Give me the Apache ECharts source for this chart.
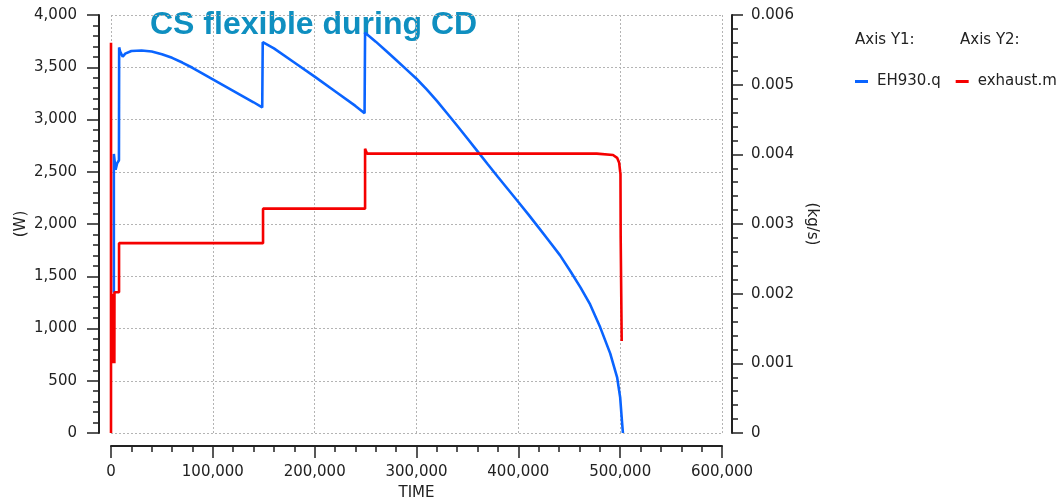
<!DOCTYPE html>
<html>
<head>
<meta charset="utf-8">
<script src="https://cdn.jsdelivr.net/npm/echarts@6/dist/echarts.min.js"></script>
<style>
  html, body { margin: 0; padding: 0; background: #ffffff; }
  #chart { width: 1064px; height: 503px; }
</style>
</head>
<body>
<div id="chart"></div>
<script>
// Heat rate of EH930 (W) over time (s)
const blueTime = [2800, 2800, 4500, 6000, 7800, 8000, 9000, 11500, 14000, 20000, 30000, 40000, 50000, 60000, 70000, 80000, 90000, 100000, 110000, 120000, 130000, 140000, 148500,
  149000, 160000, 180000, 200000, 220000, 240000, 249000,
  249500, 260000, 270000, 280000, 290000, 300000, 310000, 320000, 330000, 340000, 350000, 360000, 370000, 380000, 390000, 400000, 410000, 420000, 430000,
  441000, 451000, 461000, 470500, 480400, 490200, 497000, 500000, 501700, 502700];
const blueHeat = [1345, 2670, 2520, 2580, 2610, 3690, 3650, 3600, 3630, 3655, 3660, 3650, 3625, 3590, 3545, 3495, 3440, 3385, 3330, 3275, 3220, 3165, 3115,
  3740, 3680, 3545, 3410, 3270, 3130, 3060,
  3830, 3745, 3658, 3570, 3480, 3390, 3288, 3178, 3060, 2940, 2818, 2695, 2572, 2450, 2330, 2210, 2090, 1965, 1840,
  1700, 1550, 1394, 1230, 1011, 762, 533, 341, 122, 0];

// Exhaust mass flow (kg/s) over time (s)
const redTime = [0, 0, 100, 200, 300, 400, 500, 600, 700, 800, 900, 1000, 1100, 1200, 1300, 1400, 1500, 1600, 1700, 1800, 1900, 2000,
  2100, 2200, 2300, 2400, 2500, 2600, 2700, 2800, 2900, 3000, 3100, 3200, 3300, 3400, 7900, 7900, 149300, 149300, 249500, 249500, 251500,
  477000, 477500, 493000, 497000, 499000, 500000, 500300, 500500, 501500, 501500];
const redFlow = [0, 0.0056, 0.0010, 0.0020, 0.0010, 0.0020, 0.0010, 0.0020, 0.0010, 0.0020, 0.0010, 0.0020, 0.0010, 0.0020, 0.0010, 0.0020, 0.0010, 0.0020, 0.0010, 0.0020, 0.0010, 0.0020,
  0.0010, 0.0020, 0.0010, 0.0020, 0.0010, 0.0020, 0.0010, 0.0020, 0.0010, 0.0020, 0.0010, 0.0020, 0.0010, 0.00202, 0.00202, 0.002725, 0.002725, 0.00322, 0.00322, 0.00408, 0.00401,
  0.00401, 0.00399, 0.00399, 0.00395, 0.00388, 0.00375, 0.00372, 0.00282, 0.00280, 0.00132];

const seriesNames = ['EH930.q', 'exhaust.m'];
const axisHeaders = ['Axis Y1:', 'Axis Y2:'];
const titleText = 'CS flexible during CD';

const zip = (xs, ys) => xs.map((x, i) => [x, ys[i]]);
const fmtThousands = v => Math.round(v).toLocaleString('en-US');

const FONT = 'DejaVu Sans';
const INK = '#222222';
const GRID_LINE = { show: true, lineStyle: { color: '#b4b4b4', width: 1, type: [2, 2] } };

const chart = echarts.init(document.getElementById('chart'), null, { renderer: 'canvas' });

chart.setOption({
  animation: false,
  backgroundColor: '#ffffff',
  textStyle: { fontFamily: FONT },
  grid: { left: 111, right: 342, top: 15, bottom: 70, containLabel: false, outerBoundsMode: 'none' },
  graphic: [
    { type: 'text', left: 150, top: 9, style: { text: titleText, fill: '#0f8fc0', font: 'bold 32px "Liberation Sans", Arial, sans-serif' } },
    { type: 'text', left: 855, top: 33, style: { text: axisHeaders[0], fill: INK, font: '15px "DejaVu Sans"' } },
    { type: 'text', left: 960, top: 33, style: { text: axisHeaders[1], fill: INK, font: '15px "DejaVu Sans"' } }
  ],
  legend: {
    data: seriesNames,
    left: 850, top: 69,
    icon: 'rect', itemWidth: 13, itemHeight: 3, itemGap: 15,
    textStyle: { color: INK, fontSize: 15, fontFamily: FONT, padding: [0, 0, 0, 4] }
  },
  xAxis: {
    type: 'value', min: 0, max: 600000, interval: 100000,
    name: 'TIME', nameLocation: 'middle', nameGap: 40,
    nameTextStyle: { color: INK, fontSize: 15, fontFamily: FONT },
    offset: 13,
    axisLine: { show: true, onZero: false, lineStyle: { color: INK, width: 2 } },
    axisTick: { show: true, length: 12, lineStyle: { color: INK, width: 1.5 } },
    minorTick: { show: true, splitNumber: 5, length: 6, lineStyle: { color: INK, width: 1.5 } },
    axisLabel: { color: INK, fontSize: 15, fontFamily: FONT, margin: 19, formatter: fmtThousands },
    splitLine: GRID_LINE
  },
  yAxis: [
    {
      type: 'value', position: 'left', min: 0, max: 4000, interval: 500,
      name: '(W)', nameLocation: 'middle', nameGap: 70, nameRotate: 90, nameMoveOverlap: false,
      nameTextStyle: { color: INK, fontSize: 15, fontFamily: FONT },
      offset: 12,
      axisLine: { show: true, onZero: false, lineStyle: { color: INK, width: 2 } },
      axisTick: { show: true, length: 12, lineStyle: { color: INK, width: 1.5 } },
      minorTick: { show: true, splitNumber: 5, length: 6, lineStyle: { color: INK, width: 1.5 } },
      axisLabel: { color: INK, fontSize: 15, fontFamily: FONT, margin: 22, formatter: fmtThousands },
      splitLine: GRID_LINE
    },
    {
      type: 'value', position: 'right', min: 0, max: 0.006, interval: 0.001,
      name: '(kg/s)', nameLocation: 'middle', nameGap: 72, nameRotate: -90, nameMoveOverlap: false,
      nameTextStyle: { color: INK, fontSize: 15, fontFamily: FONT },
      offset: 10,
      axisLine: { show: true, onZero: false, lineStyle: { color: INK, width: 2 } },
      axisTick: { show: true, length: 11, lineStyle: { color: INK, width: 1.5 } },
      minorTick: { show: true, splitNumber: 5, length: 6, lineStyle: { color: INK, width: 1.5 } },
      axisLabel: { color: INK, fontSize: 15, fontFamily: FONT, margin: 19, formatter: v => (v === 0 ? '0' : v.toFixed(3)) },
      splitLine: { show: false }
    }
  ],
  series: [
    {
      name: seriesNames[0], type: 'line', yAxisIndex: 0,
      data: zip(blueTime, blueHeat),
      showSymbol: false, symbol: 'none',
      itemStyle: { color: '#0a64ff' },
      lineStyle: { color: '#0a64ff', width: 2.6 },
      z: 2
    },
    {
      name: seriesNames[1], type: 'line', yAxisIndex: 1,
      data: zip(redTime, redFlow),
      showSymbol: false, symbol: 'none',
      itemStyle: { color: '#f50000' },
      lineStyle: { color: '#f50000', width: 2.6 },
      z: 3
    }
  ]
});
</script>
</body>
</html>
